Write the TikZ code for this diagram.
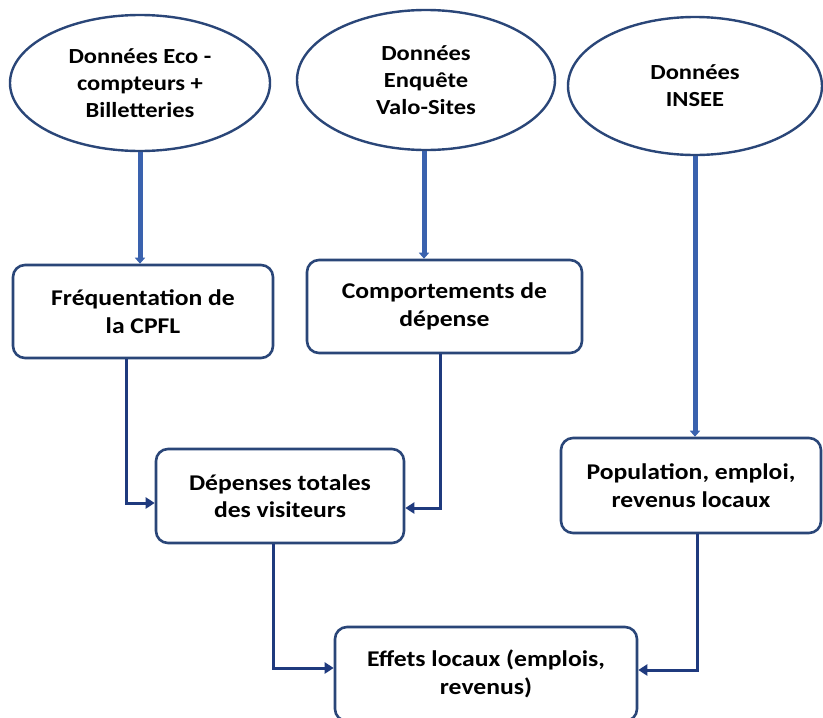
\documentclass[tikz,border=0pt]{standalone}
\usepackage{fontspec}
\setmainfont{Carlito}[FakeStretch=1.14]
\usetikzlibrary{shapes.geometric,arrows.meta,calc}
\definecolor{navy}{HTML}{2A4678}
\definecolor{conncol}{HTML}{1F3A7E}
\definecolor{thickcol}{HTML}{3A62AE}
\begin{document}
\begin{tikzpicture}[x=1pt,y=-1pt,
  src/.style={ellipse,draw=navy,line width=2.4pt,inner sep=0pt,align=center,
    font=\fontsize{21.5}{27}\selectfont\bfseries},
  box/.style={rectangle,rounded corners=12pt,draw=navy,line width=2.6pt,inner sep=0pt,
    align=center,font=\fontsize{22.5}{27.5}\selectfont\bfseries},
  thick arrow/.style={draw=thickcol,line width=5pt,-{Triangle[length=6pt,width=10pt]}},
  conn/.style={draw=conncol,line width=3pt,-{Triangle[length=9pt,width=11pt]}}]
\useasboundingbox (0,0) rectangle (823,718);
\fill[white] (0,0) rectangle (823,718);

\node[src,minimum width=260pt,minimum height=136pt] (e1) at (140,83)
  {Données Eco -\\compteurs +\\Billetteries};
\node[src,minimum width=258pt,minimum height=140pt] (e2) at (426,80)
  {Données\\Enquête\\Valo-Sites};
\node[src,minimum width=254pt,minimum height=138pt] (e3) at (695,86)
  {Données\\INSEE};

\node[box,minimum width=260pt,minimum height=93pt] (b1) at (143,311.5)
  {Fréquentation de\\la CPFL};
\node[box,minimum width=275pt,minimum height=93pt] (b2) at (444.5,306.5)
  {Comportements de\\dépense};
\node[box,minimum width=248pt,minimum height=94pt] (b3) at (280,496)
  {Dépenses totales\\des visiteurs};
\node[box,minimum width=260pt,minimum height=95pt] (b4) at (691,485.5)
  {Population, emploi,\\revenus locaux};
\node[box,minimum width=302pt,minimum height=94pt] (b5) at (486,674)
  {Effets locaux (emplois,\\revenus)};

\draw[thick arrow] (e1.south) -- (e1.south |- b1.north);
\draw[thick arrow] ([xshift=-2pt]e2.south) -- ([xshift=-2pt]e2.south |- b2.north);
\draw[thick arrow] (e3.south) -- (e3.south |- b4.north);

\draw[conn] ([xshift=-17pt]b1.south) |- ([yshift=-7pt]b3.west);
\draw[conn] ([xshift=-4.5pt]b2.south) |- ([yshift=-12pt]b3.east);
\draw[conn] ([xshift=-7pt]b3.south) |- ([yshift=6pt]b5.west);
\draw[conn] ([xshift=6pt]b4.south) |- ([yshift=4pt]b5.east);
\end{tikzpicture}
\end{document}
